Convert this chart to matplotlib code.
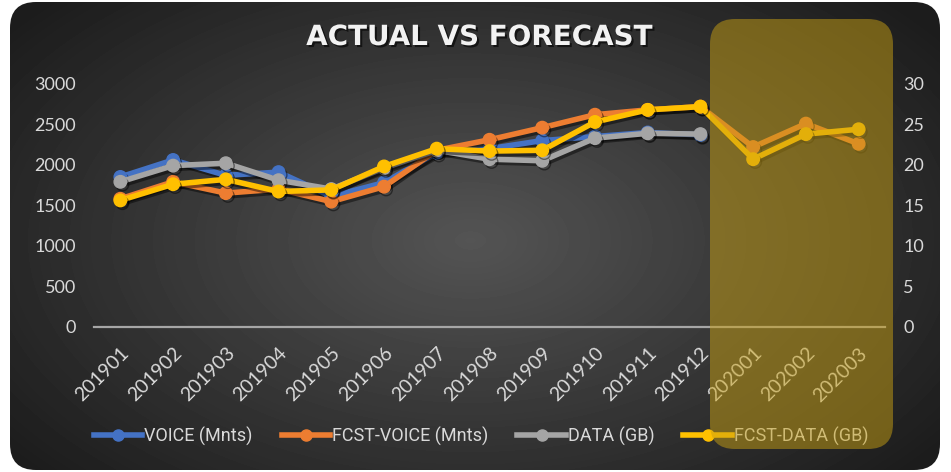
import numpy as np
import matplotlib
matplotlib.use('Agg')
import matplotlib.pyplot as plt
import matplotlib.patheffects as pe
from matplotlib.patches import FancyBboxPatch
from matplotlib.lines import Line2D
from matplotlib.transforms import ScaledTranslation

# chart data
months = ['201901', '201902', '201903', '201904', '201905', '201906', '201907',
          '201908', '201909', '201910', '201911', '201912', '202001', '202002', '202003']
voice = [1850, 2060, 1870, 1910, 1610, 1780, 2150, 2200, 2300, 2350, 2400, 2370]
fcst_voice = [1580, 1790, 1650, 1700, 1545, 1730, 2180, 2310, 2460, 2620, 2680, 2720,
              2220, 2510, 2260]
data_gb = [17.9, 19.9, 20.2, 18.1, 17.0, 19.6, 21.8, 20.7, 20.5, 23.3, 23.9, 23.8]
fcst_data = [15.6, 17.6, 18.2, 16.7, 16.9, 19.8, 22.0, 21.7, 21.8, 25.3, 26.8, 27.2,
             20.7, 23.8, 24.4]
left_ticks = [0, 500, 1000, 1500, 2000, 2500, 3000]
right_ticks = [0, 5, 10, 15, 20, 25, 30]
labels = ['VOICE (Mnts)', 'FCST-VOICE (Mnts)', 'DATA (GB)', 'FCST-DATA (GB)']
colors = ['#4472C4', '#ED7D31', '#A5A5A5', '#FFC000']

plt.rcParams['font.family'] = ['Lato', 'DejaVu Sans']

W, H = 951, 472
fig = plt.figure(figsize=(W / 100, H / 100), dpi=100)
fig.patch.set_facecolor('white')

# dark rounded panel with radial gradient
bg = fig.add_axes([0, 0, 1, 1], zorder=0)
yy, xx = np.mgrid[0:H, 0:W]
r = np.sqrt(((xx - 470) / 560) ** 2 + ((yy - 240) / 330) ** 2)
shade = np.clip(0.33 - 0.21 * r, 0.11, 0.33)
img = bg.imshow(shade, cmap='gray', vmin=0, vmax=1, extent=(0, W, H, 0),
                interpolation='bilinear', aspect='auto')
panel = FancyBboxPatch((36, 28), 878, 416, boxstyle='round,pad=26',
                       fc='none', ec='none')
bg.add_patch(panel)
img.set_clip_path(panel)
bg.set_xlim(0, W)
bg.set_ylim(H, 0)
bg.axis('off')

# main axes
ax = fig.add_axes([94 / W, 1 - 326.5 / H, 791 / W, 242.5 / H], zorder=1)
ax.set_facecolor('none')
x = np.arange(len(months))

def shadow():
    return [pe.SimpleLineShadow(offset=(1.5, -2), shadow_color='black', alpha=0.45),
            pe.Normal()]

style = dict(lw=4, marker='o', ms=9, solid_joinstyle='round', solid_capstyle='round')
ax.plot(x[:len(voice)], voice, color=colors[0], path_effects=shadow(), **style)
ax.plot(x, fcst_voice, color=colors[1], path_effects=shadow(), **style)

ax2 = ax.twinx()
ax2.set_zorder(2)
ax2.plot(x[:len(data_gb)], data_gb, color=colors[2], path_effects=shadow(), **style)
ax2.plot(x, fcst_data, color=colors[3], path_effects=shadow(), **style)

ax.set_xlim(-0.5, len(months) - 0.5)
ax.set_ylim(0, 3000)
ax2.set_ylim(0, 30)
ax.set_yticks(left_ticks)
ax2.set_yticks(right_ticks)
ax.set_xticks(x)
ax.set_xticklabels(months, rotation=45, ha='right', va='top', rotation_mode='anchor')
for lab in ax.get_xticklabels():
    lab.set_transform(lab.get_transform() + ScaledTranslation(7 / 72, 0, fig.dpi_scale_trans))

for s in ['top', 'left', 'right']:
    ax.spines[s].set_visible(False)
for s in ax2.spines.values():
    s.set_visible(False)
ax.spines['bottom'].set_color('#a6a6a6')
ax.spines['bottom'].set_linewidth(1.6)

ax.tick_params(axis='y', length=0, pad=13, labelcolor='#d9d9d9', labelsize=13)
ax2.tick_params(axis='y', length=0, pad=13, labelcolor='#d9d9d9', labelsize=13)
ax.tick_params(axis='x', length=0, pad=13, labelcolor='#d9d9d9', labelsize=14)

fig.text(479 / W, 1 - 37 / H, 'ACTUAL VS FORECAST', ha='center', va='center',
         fontsize=20, fontweight='bold', color='#f2f2f2', family='DejaVu Sans',
         path_effects=[pe.withSimplePatchShadow(offset=(1.5, -1.5),
                                                shadow_rgbFace='black', alpha=0.6)])

handles = [Line2D([], [], color=c, lw=4, marker='o', ms=8) for c in colors]
fig.legend(handles, labels, loc='center', bbox_to_anchor=(481 / W, 1 - 436 / H), ncol=4,
           frameon=False, prop={'family': ['Roboto', 'DejaVu Sans'], 'size': 13},
           labelcolor='#d9d9d9', handlelength=2.7, handletextpad=0.1, columnspacing=1.6)

# forecast highlight box
ov = fig.add_axes([0, 0, 1, 1], zorder=10)
ov.set_xlim(0, W)
ov.set_ylim(H, 0)
ov.axis('off')
ov.add_patch(FancyBboxPatch((735, 44), 133, 380, boxstyle='round,pad=25',
                            fc='#c8a014', alpha=0.5, ec='none'))

fig.savefig('out.png', dpi=100)
